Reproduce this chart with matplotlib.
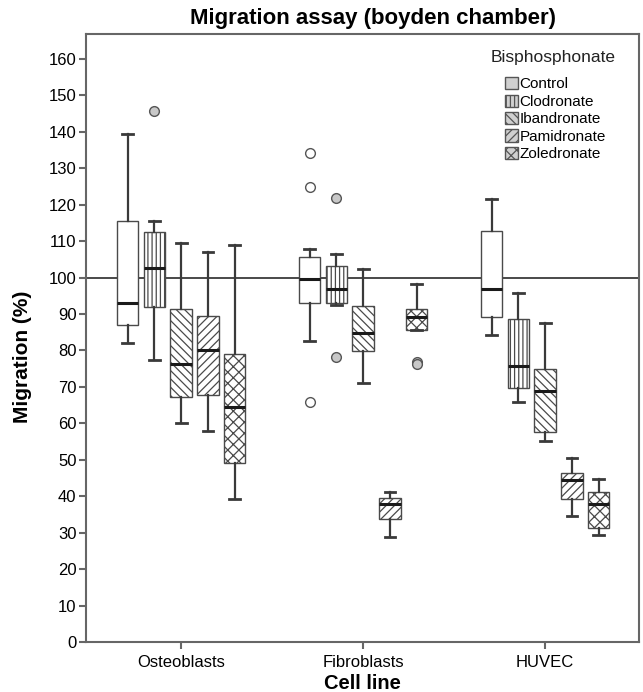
import numpy as np
import matplotlib
matplotlib.use('Agg')
import matplotlib.pyplot as plt
from matplotlib.patches import Patch

plt.rcParams['font.family'] = ['Liberation Sans', 'DejaVu Sans']
plt.rcParams['hatch.color'] = '#505050'
plt.rcParams['hatch.linewidth'] = 0.9

cell_lines = ['Osteoblasts', 'Fibroblasts', 'HUVEC']
drugs = ['Control', 'Clodronate', 'Ibandronate', 'Pamidronate', 'Zoledronate']
hatches = ['', '||||', '\\\\\\\\', '////', 'xxx']

# per drug, one value per cell line (Osteoblasts, Fibroblasts, HUVEC)
whishi = {
    'Control':     [139.4, 107.8, 121.6],
    'Clodronate':  [115.6, 106.4, 95.7],
    'Ibandronate': [109.4, 102.4, 87.6],
    'Pamidronate': [107.1, 41.3, 50.4],
    'Zoledronate': [108.8, 98.2, 44.7],
}
q3 = {
    'Control':     [115.5, 105.6, 112.8],
    'Clodronate':  [112.4, 103.1, 88.6],
    'Ibandronate': [91.3, 92.2, 74.9],
    'Pamidronate': [89.5, 39.4, 46.4],
    'Zoledronate': [79.0, 91.3, 41.1],
}
med = {
    'Control':     [92.9, 99.6, 96.8],
    'Clodronate':  [102.7, 96.9, 75.8],
    'Ibandronate': [76.4, 84.8, 68.9],
    'Pamidronate': [80.0, 37.9, 44.4],
    'Zoledronate': [64.6, 89.3, 37.9],
}
q1 = {
    'Control':     [86.9, 92.9, 89.2],
    'Clodronate':  [92.0, 92.9, 69.8],
    'Ibandronate': [67.2, 79.9, 57.7],
    'Pamidronate': [67.8, 33.8, 39.2],
    'Zoledronate': [49.1, 85.6, 31.2],
}
whislo = {
    'Control':     [82.0, 82.6, 84.1],
    'Clodronate':  [77.5, 92.5, 65.9],
    'Ibandronate': [60.1, 71.1, 55.1],
    'Pamidronate': [57.9, 28.9, 34.6],
    'Zoledronate': [39.2, 85.6, 29.5],
}
fliers = {
    'Control':     [[], [134.1, 124.7, 65.8], []],
    'Clodronate':  [[145.7], [121.8, 78.1], []],
    'Ibandronate': [[], [], []],
    'Pamidronate': [[], [], []],
    'Zoledronate': [[], [76.7, 76.2], []],
}

fig = plt.figure(figsize=(6.43, 6.92), dpi=100)
ax = fig.add_axes([0.134, 0.072, 0.860, 0.879])

step = 0.147
width = 0.118
edge = '#4a4a4a'

for j, d in enumerate(drugs):
    stats = []
    for i in range(len(cell_lines)):
        stats.append(dict(med=med[d][i], q1=q1[d][i], q3=q3[d][i],
                          whislo=whislo[d][i], whishi=whishi[d][i],
                          fliers=fliers[d][i]))
    pos = np.arange(len(cell_lines)) + (j - 2) * step
    fc = 'white' if j == 0 else '#c8c8c8'
    ax.bxp(stats, positions=pos, widths=width, patch_artist=True,
           showfliers=True, manage_ticks=False,
           boxprops=dict(facecolor='white', edgecolor=edge, linewidth=1.0, hatch=hatches[j]),
           medianprops=dict(color='#1a1a1a', linewidth=2.2),
           whiskerprops=dict(color='#3a3a3a', linewidth=1.6),
           capprops=dict(color='#3a3a3a', linewidth=2.0),
           flierprops=dict(marker='o', markersize=7, markerfacecolor=fc,
                           markeredgecolor='#555555', markeredgewidth=1.0))

ax.axhline(100, color='#3a3a3a', linewidth=1.3, zorder=0)

ax.set_xlim(-0.522, 2.516)
ax.set_ylim(0, 166.8)
ax.set_yticks(np.arange(0, 161, 10))
ax.set_xticks(np.arange(len(cell_lines)))
ax.set_xticklabels(cell_lines)
ax.tick_params(axis='both', labelsize=12, color='#666666', width=1.5, length=5)
ax.tick_params(axis='y', pad=2)
ax.tick_params(axis='x', pad=4)

for s in ax.spines.values():
    s.set_color('#666666')
    s.set_linewidth(1.5)

ax.set_title('Migration assay (boyden chamber)', fontsize=16, fontweight='bold',
             x=0.518, pad=7)
ax.set_xlabel('Cell line', fontsize=14.5, fontweight='bold')
ax.xaxis.set_label_coords(0.5, -0.052)
ax.set_ylabel('Migration (%)', fontsize=15, fontweight='bold')
ax.yaxis.set_label_coords(-0.098, 0.469)

ax.text(0.845, 0.9605, 'Bisphosphonate', transform=ax.transAxes, ha='center',
        va='center', fontsize=12.5, color='#222222')
handles = [Patch(facecolor='#d0d0d0', edgecolor='#555555', hatch=h, label=d)
           for d, h in zip(drugs, hatches)]
ax.legend(handles=handles, loc='upper left', bbox_to_anchor=(0.757, 0.929),
          frameon=False, fontsize=11, borderpad=0, borderaxespad=0,
          handlelength=0.85, handleheight=0.85, handletextpad=0.1,
          labelspacing=0.2)

fig.savefig('out.png', dpi=100)
